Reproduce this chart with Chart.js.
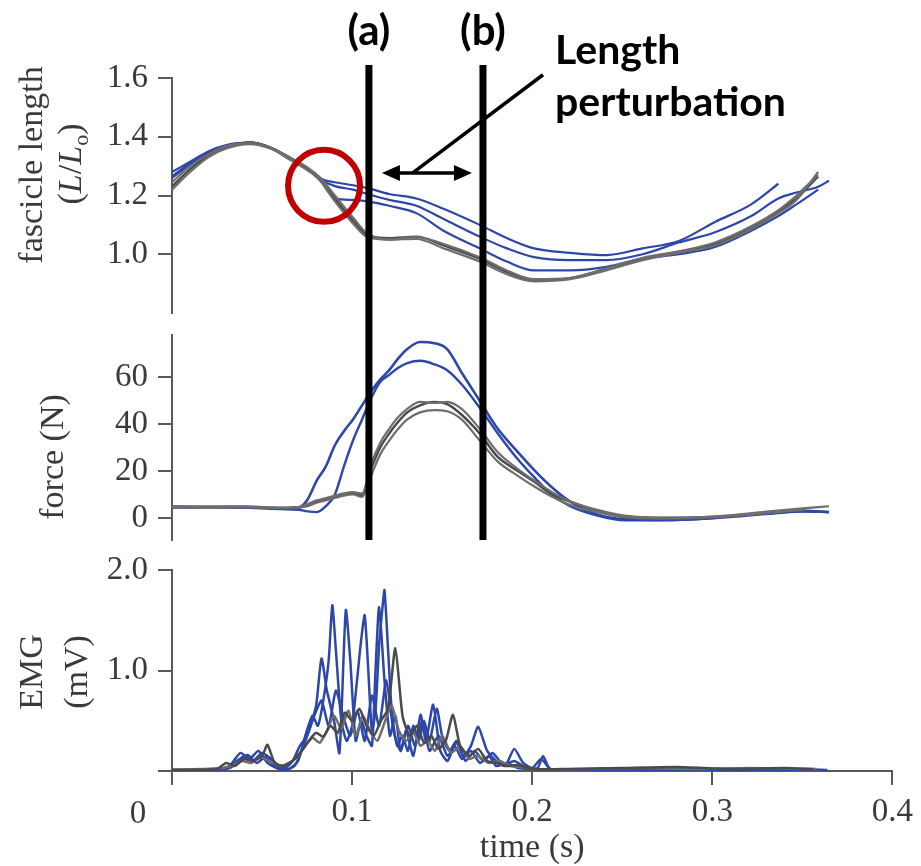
<!DOCTYPE html>
<html>
<head>
<meta charset="utf-8">
<script src="https://cdn.jsdelivr.net/npm/chart.js@4.4.0/dist/chart.umd.min.js"></script>
<style>
  body { margin: 0; background: #fff; }
  #wrap { position: relative; width: 921px; height: 866px; }
  #wrap canvas { position: absolute; left: 0; top: 0; }
</style>
</head>
<body>
<div id="wrap">
  <canvas id="emgChart" width="921" height="866"></canvas>
  <canvas id="forceChart" width="921" height="866"></canvas>
  <canvas id="lengthChart" width="921" height="866"></canvas>
</div>
<script>
// fascicle length (L/Lo) - shared time grid, null = trace ended
const lengthTime = [0, 0.01, 0.02, 0.03, 0.043, 0.055, 0.065, 0.075, 0.082, 0.09, 0.1, 0.108, 0.12, 0.135,
    0.15, 0.17, 0.185, 0.2, 0.22, 0.24, 0.26, 0.28, 0.3, 0.32, 0.335, 0.345, 0.357, 0.363];
const lengthGray1 = [1.23, 1.29, 1.335, 1.365, 1.38, 1.36, 1.325, 1.29, 1.255, 1.19, 1.115, 1.065, 1.055, 1.06,
    1.03, 0.985, 0.94, 0.912, 0.918, 0.95, 0.985, 1.008, 1.035, 1.09, 1.145, 1.19, 1.265, null];
const lengthGray2 = [1.245, 1.3, 1.34, 1.368, 1.378, 1.362, 1.33, 1.295, 1.26, 1.2, 1.125, 1.07, 1.05, 1.052,
    1.02, 0.975, 0.932, 0.908, 0.915, 0.945, 0.98, 1.005, 1.03, 1.085, 1.14, 1.185, 1.28, null];
const lengthGray3 = [1.22, 1.28, 1.33, 1.36, 1.375, 1.358, 1.322, 1.285, 1.25, 1.18, 1.105, 1.058, 1.05, 1.058,
    1.035, 0.99, 0.945, 0.915, 0.92, 0.952, 0.988, 1.01, 1.04, 1.095, 1.15, 1.2, 1.27, null];
const lengthBlue1 = [1.28, 1.315, 1.35, 1.372, 1.38, 1.362, 1.328, 1.29, 1.258, 1.245, 1.235, 1.225, 1.205, 1.19,
    1.155, 1.1, 1.055, 1.02, 1.005, 0.997, 1.02, 1.045, 1.11, 1.17, 1.24, null, null, null];
const lengthBlue2 = [1.265, 1.31, 1.345, 1.37, 1.38, 1.362, 1.328, 1.29, 1.255, 1.232, 1.22, 1.205, 1.185, 1.165,
    1.12, 1.06, 1.02, 0.99, 0.98, 0.98, 1.0, 1.04, 1.075, 1.13, 1.19, 1.21, 1.23, 1.25];
const lengthBlue3 = [1.26, 1.305, 1.342, 1.368, 1.38, 1.362, 1.328, 1.29, 1.25, 1.19, 1.185, 1.18, 1.165, 1.14,
    1.08, 1.02, 0.975, 0.945, 0.945, 0.957, 0.985, 1.0, 1.025, 1.08, 1.13, 1.17, 1.22, null];
const lengthTicks = [1.0, 1.2, 1.4, 1.6];

// force (N)
const forceTime = [0, 0.02, 0.04, 0.06, 0.07, 0.075, 0.08, 0.085, 0.09, 0.095, 0.1, 0.105, 0.11, 0.115, 0.12,
    0.125, 0.13, 0.137, 0.145, 0.152, 0.16, 0.17, 0.18, 0.19, 0.2, 0.21, 0.22, 0.235, 0.25, 0.27, 0.29, 0.31,
    0.33, 0.35, 0.363];
const forceGray1 = [4.8, 4.7, 4.8, 4.3, 4.5, 5.5, 7, 8, 9, 10, 10.5, 9.8, 21, 30, 36, 41, 45, 48, 49.5, 48.5,
    44, 36, 26, 20.5, 15.5, 10, 7, 3, 0.5, 0, 0.2, 1, 2.5, 3.8, null];
const forceGray2 = [4.5, 4.5, 4.6, 4.2, 4.4, 5, 6.5, 7.5, 8.5, 9.5, 10, 9, 18, 27, 33, 38, 42, 45, 46, 45.5,
    42, 33, 24, 18.5, 13.5, 9, 5.5, 2.5, 0.3, -0.3, 0, 0.8, 2.2, 3.5, null];
const forceGray3 = [5, 4.8, 4.9, 4.4, 4.6, 6, 7.5, 8.5, 9.5, 10.5, 11, 10.5, 23, 32, 38, 43, 46.5, 49.5, 49, 49.5,
    46.5, 38, 28, 21.5, 16, 11, 7, 3.5, 1, 0.2, 0.3, 1.2, 2.8, 4.2, 5];
const forceBlue1 = [4.5, 4.6, 4.5, 4, 4.5, 8, 16, 22, 31, 37, 42, 48, 54, 59, 63, 68, 72, 75, 74.5, 72,
    62, 50, 38, 29, 20.5, 13, 7, 1.5, -0.5, -0.8, -0.5, 0.8, 2, 3, 2.5];
const forceBlue2 = [4.5, 4.6, 4.4, 3.8, 3.5, 2.8, 2.5, 5, 10, 22, 33, 42, 51, 58, 61, 64, 66, 67, 65.5, 63,
    57, 47, 36, 26, 17.5, 10, 5, 1, -1, -1, -0.5, 0.5, 1.8, 2.7, 2.5];
const forceTicks = [0, 20, 40, 60];

// EMG (mV), one time array per trace
const emgBlue1Time = [0, 0.02, 0.03, 0.035, 0.04, 0.045, 0.05, 0.055, 0.06, 0.065, 0.07, 0.074, 0.078, 0.081,
    0.084, 0.087, 0.089, 0.091, 0.094, 0.097, 0.1, 0.103, 0.105, 0.107, 0.109, 0.111, 0.113, 0.115, 0.117, 0.118,
    0.12, 0.122, 0.125, 0.128, 0.131, 0.134, 0.137, 0.14, 0.143, 0.147, 0.15, 0.154, 0.158, 0.162, 0.166, 0.17,
    0.175, 0.18, 0.185, 0.19, 0.195, 0.2, 0.205, 0.21, 0.22, 0.25, 0.28, 0.31, 0.34, 0.364];
const emgBlue1 = [0.01, 0.01, 0.02, 0.06, 0.15, 0.1, 0.18, 0.12, 0.04, 0.02, 0.1, 0.35, 0.55, 0.45,
    0.7, 1.1, 1.65, 1.2, 0.5, 0.3, 0.45, 0.95, 1.3, 1.55, 1.0, 0.4, 0.6, 1.25, 1.65, 1.8,
    1.2, 0.6, 0.25, 0.35, 0.2, 0.45, 0.3, 0.5, 0.3, 0.62, 0.35, 0.2, 0.3, 0.15, 0.25, 0.44,
    0.2, 0.1, 0.05, 0.22, 0.08, 0.03, 0.12, 0.02, 0.01, 0.02, 0.01, 0.02, 0.01, 0.01];
const emgBlue2Time = [0, 0.025, 0.032, 0.038, 0.043, 0.048, 0.053, 0.058, 0.063, 0.068, 0.072, 0.076, 0.08,
    0.083, 0.086, 0.09, 0.093, 0.0965, 0.099, 0.102, 0.105, 0.108, 0.111, 0.113, 0.115, 0.118, 0.121, 0.124,
    0.127, 0.13, 0.134, 0.138, 0.141, 0.145, 0.149, 0.153, 0.157, 0.161, 0.166, 0.171, 0.176, 0.18, 0.186,
    0.192, 0.2, 0.21, 0.24, 0.27, 0.3, 0.33, 0.362];
const emgBlue2 = [0.01, 0.01, 0.05, 0.18, 0.12, 0.2, 0.08, 0.03, 0.01, 0.05, 0.2, 0.4, 0.65,
    1.12, 0.8, 0.5, 0.18, 1.6, 1.1, 0.3, 0.5, 0.35, 0.25, 1.0, 1.63, 0.9, 0.35, 0.55,
    0.2, 0.4, 0.15, 0.56, 0.3, 0.66, 0.2, 0.1, 0.25, 0.12, 0.2, 0.08, 0.15, 0.05, 0.08,
    0.03, 0.02, 0.01, 0.02, 0.01, 0.02, 0.01, 0.01];
const emgBlue3Time = [0, 0.03, 0.036, 0.042, 0.047, 0.052, 0.057, 0.062, 0.067, 0.071, 0.075, 0.079, 0.083,
    0.087, 0.091, 0.095, 0.099, 0.103, 0.107, 0.111, 0.115, 0.119, 0.123, 0.127, 0.131, 0.135, 0.139, 0.143,
    0.148, 0.153, 0.158, 0.163, 0.168, 0.173, 0.178, 0.184, 0.19, 0.196, 0.203, 0.206, 0.21, 0.23, 0.26, 0.3,
    0.33, 0.36];
const emgBlue3 = [0.01, 0.02, 0.1, 0.16, 0.08, 0.14, 0.05, 0.02, 0.1, 0.25, 0.35, 0.55, 0.7,
    0.45, 0.8, 0.55, 0.35, 0.6, 0.3, 0.75, 0.45, 0.9, 0.4, 0.2, 0.45, 0.25, 0.5, 0.2,
    0.35, 0.15, 0.28, 0.1, 0.2, 0.1, 0.18, 0.06, 0.1, 0.04, 0.03, 0.15, 0.02, 0.01, 0.02, 0.01,
    0.02, 0.01];
const emgGray1Time = [0, 0.025, 0.03, 0.035, 0.04, 0.045, 0.05, 0.053, 0.057, 0.062, 0.067, 0.072, 0.076,
    0.08, 0.084, 0.088, 0.092, 0.096, 0.1, 0.104, 0.108, 0.112, 0.116, 0.12, 0.124, 0.128, 0.132, 0.136, 0.14,
    0.144, 0.148, 0.152, 0.156, 0.16, 0.165, 0.17, 0.175, 0.18, 0.186, 0.192, 0.2, 0.22, 0.25, 0.28, 0.31,
    0.34, 0.356];
const emgGray1 = [0.01, 0.02, 0.08, 0.05, 0.12, 0.1, 0.15, 0.26, 0.08, 0.05, 0.1, 0.2, 0.3,
    0.38, 0.34, 0.45, 0.38, 0.58, 0.5, 0.62, 0.45, 0.35, 0.5, 0.62, 1.22, 0.55, 0.35, 0.45, 0.28,
    0.35, 0.22, 0.3, 0.56, 0.25, 0.15, 0.22, 0.1, 0.08, 0.05, 0.06, 0.02, 0.02, 0.03, 0.04, 0.02,
    0.03, 0.02];
const emgGray2Time = [0, 0.028, 0.034, 0.039, 0.044, 0.049, 0.055, 0.06, 0.065, 0.07, 0.074, 0.078, 0.082,
    0.086, 0.09, 0.094, 0.098, 0.102, 0.106, 0.11, 0.114, 0.118, 0.122, 0.126, 0.13, 0.134, 0.138, 0.142,
    0.146, 0.15, 0.155, 0.16, 0.165, 0.17, 0.176, 0.182, 0.188, 0.195, 0.2, 0.23, 0.26, 0.29, 0.32, 0.35, 0.358];
const emgGray2 = [0.01, 0.03, 0.06, 0.1, 0.08, 0.14, 0.09, 0.05, 0.08, 0.15, 0.25, 0.33, 0.28,
    0.4, 0.55, 0.42, 0.6, 0.35, 0.55, 0.4, 0.3, 0.48, 0.65, 0.4, 0.3, 0.38, 0.25, 0.3,
    0.2, 0.35, 0.18, 0.25, 0.12, 0.15, 0.08, 0.1, 0.05, 0.04, 0.02, 0.02, 0.03, 0.02, 0.03, 0.02, 0.02];
const emgTicks = [0, 1.0, 2.0];

const timeTicks = [0, 0.1, 0.2, 0.3, 0.4];
const perturbTimes = [0.1088, 0.1718];
const perturbLabels = ['(a)', '(b)'];

const BLUE = '#2d47a9';
const GRAY = '#4a4a4a';
const GRAY_LIGHT = '#6e6e6e';
const AXIS = '#5a5a5a';
const TEXT = '#3a3a3a';
const SERIF = "'Liberation Serif', 'DejaVu Serif', serif";
const SANS = "Lato, 'Open Sans', sans-serif";

function toPoints(times, values) {
    return times.map((t, i) => ({ x: t, y: values[i] }));
}

function trace(times, values, color, width, smooth) {
    return {
        data: toPoints(times, values),
        borderColor: color,
        borderWidth: width,
        pointRadius: 0,
        fill: false,
        spanGaps: false,
        tension: smooth ? 0.4 : 0.2,
        cubicInterpolationMode: smooth ? 'monotone' : 'default'
    };
}

// axis titles drawn by hand so that italics and the subscript work
function drawRuns(ctx, runs) {
    let total = 0;
    runs.forEach(r => {
        ctx.font = (r.italic ? 'italic ' : '') + (r.sub ? 22 : 34) + 'px ' + SERIF;
        r.w = ctx.measureText(r.text).width;
        total += r.w;
    });
    let x = -total / 2;
    ctx.textAlign = 'left';
    ctx.textBaseline = 'alphabetic';
    runs.forEach(r => {
        ctx.font = (r.italic ? 'italic ' : '') + (r.sub ? 22 : 34) + 'px ' + SERIF;
        ctx.fillText(r.text, x, r.sub ? 18 : 11);
        x += r.w;
    });
}

const sideTitlePlugin = {
    id: 'sideTitle',
    afterDraw(chart, args, opts) {
        if (!opts || !opts.lines) return;
        const ctx = chart.ctx;
        ctx.save();
        ctx.fillStyle = TEXT;
        opts.lines.forEach(line => {
            ctx.save();
            ctx.translate(line.x, line.y);
            ctx.rotate(-Math.PI / 2);
            drawRuns(ctx, line.runs);
            ctx.restore();
        });
        ctx.restore();
    }
};
Chart.register(sideTitlePlugin);

// markers: perturbation lines, arrow, red circle, labels
const overlayPlugin = {
    id: 'overlay',
    afterDraw(chart) {
        const ctx = chart.ctx;
        const xs = chart.scales.x;
        const ys = chart.scales.y;
        ctx.save();

        ctx.strokeStyle = '#000';
        ctx.fillStyle = '#000';
        ctx.lineWidth = 7;
        ctx.font = 'bold 42px ' + SANS;
        ctx.textAlign = 'center';
        ctx.textBaseline = 'alphabetic';
        perturbTimes.forEach((t, i) => {
            const px = xs.getPixelForValue(t);
            ctx.beginPath();
            ctx.moveTo(px, 65);
            ctx.lineTo(px, 540);
            ctx.stroke();
            ctx.fillText(perturbLabels[i], px, 45);
        });

        // double arrow between the lines
        const ay = ys.getPixelForValue(1.277);
        const ax1 = xs.getPixelForValue(0.116);
        const ax2 = xs.getPixelForValue(0.1657);
        ctx.lineWidth = 3.5;
        ctx.beginPath();
        ctx.moveTo(ax1 + 10, ay);
        ctx.lineTo(ax2 - 10, ay);
        ctx.stroke();
        [[ax1, 1], [ax2, -1]].forEach(([x, d]) => {
            ctx.beginPath();
            ctx.moveTo(x, ay);
            ctx.lineTo(x + d * 18, ay - 8);
            ctx.lineTo(x + d * 18, ay + 8);
            ctx.closePath();
            ctx.fill();
        });

        // pointer to the label
        ctx.beginPath();
        ctx.moveTo(xs.getPixelForValue(0.133), ay);
        ctx.lineTo(xs.getPixelForValue(0.205), ys.getPixelForValue(1.611));
        ctx.stroke();

        ctx.textAlign = 'left';
        ctx.font = 'bold 41px ' + SANS;
        ctx.fillText('Length', 555, 64);
        ctx.fillText('perturbation', 555, 116);

        // red circle
        ctx.strokeStyle = '#c00000';
        ctx.lineWidth = 6;
        ctx.beginPath();
        ctx.arc(xs.getPixelForValue(0.084), ys.getPixelForValue(1.233), 36, 0, Math.PI * 2);
        ctx.stroke();

        ctx.restore();
    }
};

const zeroLabelPlugin = {
    id: 'zeroLabel',
    afterDraw(chart) {
        const ctx = chart.ctx;
        ctx.save();
        ctx.fillStyle = TEXT;
        ctx.font = '33px ' + SERIF;
        ctx.textAlign = 'center';
        ctx.textBaseline = 'alphabetic';
        ctx.fillText('0', chart.scales.x.getPixelForValue(0) - 34, 823);
        ctx.restore();
    }
};

function yScale(min, max, ticks, fmt) {
    return {
        min: min,
        max: max,
        afterBuildTicks: s => { s.ticks = ticks.map(v => ({ value: v })); },
        afterFit: s => { s.width = 172; },
        border: { display: true, color: AXIS, width: 2 },
        grid: { drawOnChartArea: false, drawTicks: true, tickLength: 14, color: AXIS, lineWidth: 2 },
        ticks: { padding: 10, color: TEXT, font: { family: SERIF, size: 33 }, callback: fmt }
    };
}

function hiddenX() {
    return { type: 'linear', min: 0, max: 0.4, display: false };
}

function baseOptions(padTop, padBottom, scales, titleLines) {
    return {
        responsive: false,
        animation: false,
        events: [],
        layout: { padding: { left: 0, right: 25, top: padTop, bottom: padBottom } },
        plugins: {
            legend: { display: false },
            tooltip: { enabled: false },
            sideTitle: { lines: titleLines }
        },
        scales: scales
    };
}

new Chart(document.getElementById('emgChart'), {
    type: 'line',
    data: {
        datasets: [
            trace(emgGray1Time, emgGray1, GRAY, 2.5, false),
            trace(emgGray2Time, emgGray2, GRAY_LIGHT, 2.5, false),
            trace(emgBlue3Time, emgBlue3, BLUE, 2.5, false),
            trace(emgBlue2Time, emgBlue2, BLUE, 2.5, false),
            trace(emgBlue1Time, emgBlue1, BLUE, 2.5, false)
        ]
    },
    options: baseOptions(570, 0, {
        x: {
            type: 'linear', min: 0, max: 0.4,
            afterBuildTicks: s => { s.ticks = timeTicks.map(v => ({ value: v })); },
            afterFit: s => { s.height = 95; },
            border: { display: true, color: AXIS, width: 2 },
            grid: { drawOnChartArea: false, drawTicks: true, tickLength: 14, color: AXIS, lineWidth: 2 },
            ticks: { padding: 8, color: TEXT, font: { family: SERIF, size: 33 },
                callback: v => v === 0 ? '' : v.toFixed(1) },
            title: { display: true, text: 'time (s)', color: TEXT,
                font: { family: SERIF, size: 34, lineHeight: 1 }, padding: { top: 0, bottom: 1 } }
        },
        y: yScale(0, 2.0, emgTicks, v => v === 0 ? '' : v.toFixed(1))
    }, [
        { x: 31, y: 672, runs: [{ text: 'EMG' }] },
        { x: 76, y: 672, runs: [{ text: '(mV)' }] }
    ]),
    plugins: [zeroLabelPlugin]
});

new Chart(document.getElementById('forceChart'), {
    type: 'line',
    data: {
        datasets: [
            trace(forceTime, forceGray2, GRAY_LIGHT, 2.2, true),
            trace(forceTime, forceGray3, GRAY_LIGHT, 2.2, true),
            trace(forceTime, forceGray1, GRAY, 2.4, true),
            trace(forceTime, forceBlue2, BLUE, 2.4, true),
            trace(forceTime, forceBlue1, BLUE, 2.6, true)
        ]
    },
    options: baseOptions(335, 326, {
        x: hiddenX(),
        y: yScale(-9.4, 78, forceTicks, v => String(v))
    }, [
        { x: 52, y: 457, runs: [{ text: 'force (N)' }] }
    ])
});

new Chart(document.getElementById('lengthChart'), {
    type: 'line',
    data: {
        datasets: [
            trace(lengthTime, lengthGray3, GRAY_LIGHT, 2.2, true),
            trace(lengthTime, lengthGray2, GRAY_LIGHT, 2.2, true),
            trace(lengthTime, lengthGray1, GRAY, 2.4, true),
            trace(lengthTime, lengthBlue3, BLUE, 2.2, true),
            trace(lengthTime, lengthBlue2, BLUE, 2.2, true),
            trace(lengthTime, lengthBlue1, BLUE, 2.2, true)
        ]
    },
    options: baseOptions(78, 553, {
        x: hiddenX(),
        y: yScale(0.8, 1.6, lengthTicks, v => v.toFixed(1))
    }, [
        { x: 31, y: 165, runs: [{ text: 'fascicle length' }] },
        { x: 70, y: 164, runs: [{ text: '(' }, { text: 'L', italic: true }, { text: '/' },
            { text: 'L', italic: true }, { text: 'o', sub: true }, { text: ')' }] }
    ]),
    plugins: [overlayPlugin]
});
</script>
</body>
</html>
